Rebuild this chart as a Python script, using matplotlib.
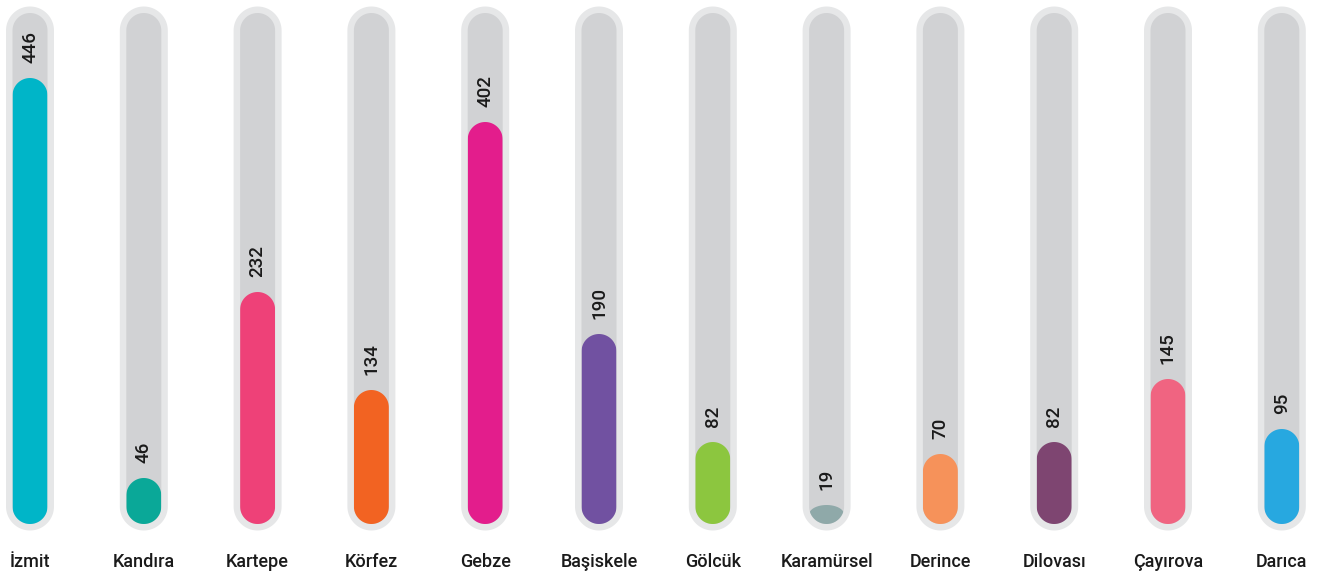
import numpy as np
import matplotlib.pyplot as plt
from matplotlib.path import Path
from matplotlib.patches import PathPatch

districts = ['İzmit', 'Kandıra', 'Kartepe', 'Körfez', 'Gebze', 'Başiskele',
             'Gölcük', 'Karamürsel', 'Derince', 'Dilovası', 'Çayırova', 'Darıca']
values = [446, 46, 232, 134, 402, 190, 82, 19, 70, 82, 145, 95]
colors = ['#00b5c8', '#0aa898', '#ee4178', '#f26322', '#e31d8c', '#7151a1',
          '#8cc63f', '#8fa9a9', '#f6925a', '#7e4571', '#f06481', '#27a8e0']

track_max = 511
spacing = 113.8
x0 = 30
half_w = 17.5
border = 6.5


def stadium(cx, y0, y1, r):
    # pill shape: half circles at both ends
    r = min(r, (y1 - y0) / 2)
    t = np.linspace(0, np.pi, 40)
    top_x = cx + r * np.cos(t)
    top_y = y1 - r + r * np.sin(t)
    bot_x = cx + r * np.cos(t + np.pi)
    bot_y = y0 + r + r * np.sin(t + np.pi)
    xs = np.concatenate([top_x, bot_x, [top_x[0]]])
    ys = np.concatenate([top_y, bot_y, [top_y[0]]])
    return Path(np.column_stack([xs, ys]), closed=True)


def bar_path(cx, v, r):
    # bar with a round cap; its bottom gets shaped by clipping to the track
    rr = min(r, v / 2)
    t = np.linspace(0, np.pi, 40)
    top_x = cx + r * np.cos(t)
    top_y = v - rr + rr * np.sin(t)
    xs = np.concatenate([top_x, [cx - r, cx + r, top_x[0]]])
    ys = np.concatenate([top_y, [-r, -r, top_y[0]]])
    return Path(np.column_stack([xs, ys]), closed=True)


plt.rcParams['font.family'] = ['Roboto', 'DejaVu Sans']

fig = plt.figure(figsize=(13.34, 5.74), dpi=100)
ax = fig.add_axes([0, 0, 1, 1])
ax.set_xlim(0, 1334)
ax.set_ylim(-50, 524)
ax.axis('off')

for i, (name, v, c) in enumerate(zip(districts, values, colors)):
    cx = x0 + i * spacing
    outer = PathPatch(stadium(cx, -border, track_max + border, half_w + border),
                      fc='#e6e7e8', ec='none')
    ax.add_patch(outer)
    track = PathPatch(stadium(cx, 0, track_max, half_w), fc='#d1d2d4', ec='none')
    ax.add_patch(track)
    bar = PathPatch(bar_path(cx, v, half_w), fc=c, ec='none')
    ax.add_patch(bar)
    bar.set_clip_path(track)

    ax.text(cx, v + 15, str(v), rotation=90, ha='center', va='bottom',
            fontsize=13.5, fontweight='medium', color='#1a1a1a')
    ax.text(cx, -38, name, ha='center', va='center', fontsize=13,
            fontweight='medium', color='#1a1a1a')

fig.savefig('out.png', dpi=100)
